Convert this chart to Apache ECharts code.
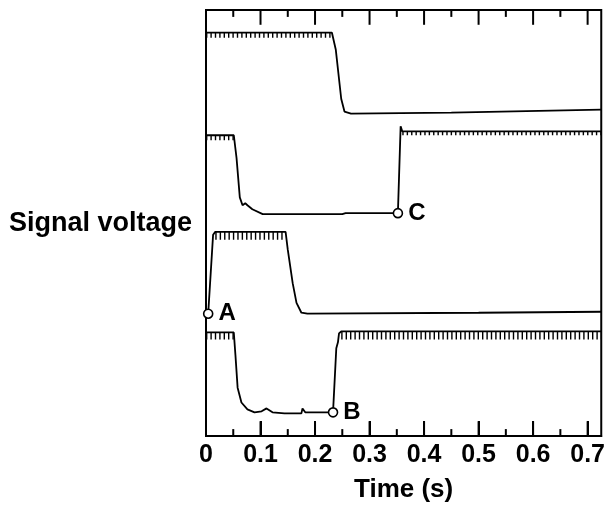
<!DOCTYPE html>
<html><head><meta charset="utf-8">
<script src="https://cdn.jsdelivr.net/npm/echarts@6/dist/echarts.min.js"></script>
<style>html,body{margin:0;padding:0;background:#fff}#c{width:608px;height:508px}</style>
</head><body><div id="c"></div>
<script>
// Time (s) axis
const tMax = 0.725;
const majorStep = 0.1;
const majorTicks = [0.1, 0.2, 0.3, 0.4, 0.5, 0.6, 0.7];
const minorTicks = [0.05, 0.15, 0.25, 0.35, 0.45, 0.55, 0.65];
const yMax = 432;

// Traces: [time (s), signal (arbitrary units, stacked offsets)]
const trace1 = [[0,409],[0.231,409],[0.238,392],[0.248,342],[0.254,329],[0.266,327],[0.45,328],[0.725,331]];
const trace2 = [[0,305],[0.051,305],[0.056,282],[0.062,242],[0.067,234],[0.072,236],[0.076,234],[0.085,230],[0.104,225],[0.25,225],[0.256,226],[0.352,226],[0.357,314],[0.36,309],[0.725,309]];
const trace3 = [[0.004,124],[0.013,204],[0.017,207],[0.146,207],[0.15,189],[0.159,155],[0.166,135],[0.175,125],[0.186,124],[0.5,125],[0.725,126]];
const trace4 = [[0,105],[0.051,105],[0.054,82],[0.058,49],[0.065,34],[0.076,27],[0.089,24],[0.102,25],[0.111,28],[0.122,24],[0.144,23],[0.175,23],[0.177,28],[0.182,24],[0.189,24],[0.233,24],[0.239,89],[0.242,95],[0.244,104],[0.248,106],[0.725,106]];

// Ripple segments on the high levels: [tStart, tEnd, level, ripple amplitude]
const ripples = [
  [0, 0.231, 409, 5],
  [0, 0.051, 305, 5],
  [0.36, 0.725, 309, 4],
  [0.017, 0.146, 207, 8],
  [0, 0.051, 105, 7],
  [0.248, 0.725, 106, 8]
];

// Marked points
const marks = [
  {name: 'A', value: [0.004, 124]},
  {name: 'C', value: [0.352, 226]},
  {name: 'B', value: [0.233, 24]}
];

const FONT = '"Liberation Sans", Arial, Helvetica, sans-serif';
const chart = echarts.init(document.getElementById('c'), null, {renderer: 'canvas'});

const series = [];
[trace1, trace2, trace3, trace4].forEach(t => series.push({
  type: 'line', data: t, symbol: 'none',
  lineStyle: {color: '#000', width: 1.8}, z: 3, animation: false
}));
ripples.forEach(r => series.push({
  type: 'line', data: [[r[0], r[2] - r[3] / 2], [r[1], r[2] - r[3] / 2]], symbol: 'none',
  lineStyle: {color: '#000', width: r[3], type: [1.4, 3.0], cap: 'butt'}, z: 2, animation: false
}));

// Inward tick marks on the bottom and top frame, each a short line through the x/y scales
function addTicks(vals, len) {
  vals.forEach(v => {
    [[[v, 0], [v, len]], [[v, yMax - len], [v, yMax]]].forEach(seg => series.push({
      type: 'line', data: seg, symbol: 'none', showSymbol: false, animation: false, z: 6,
      clip: false, lineStyle: {color: '#000', width: 2, type: 'solid', opacity: 1}
    }));
  });
}
addTicks(majorTicks, 15);
addTicks(minorTicks, 7);

series.push({
  type: 'scatter', data: marks, symbol: 'circle', symbolSize: 9, z: 5,
  itemStyle: {color: '#fff', borderColor: '#000', borderWidth: 1.6, opacity: 1},
  label: {show: true, position: 'right', distance: 5, formatter: p => p.name,
    color: '#000', fontFamily: FONT, fontWeight: 'bold', fontSize: 24},
  animation: false
});

chart.setOption({
  animation: false,
  grid: {left: 206, right: 4, top: 10, bottom: 66, show: true, borderColor: '#000', borderWidth: 2},
  xAxis: {
    type: 'value', min: 0, max: tMax, interval: majorStep,
    axisLine: {show: true, onZero: false, lineStyle: {color: '#000', width: 2}},
    splitLine: {show: false},
    axisTick: {show: true, inside: true, length: 15, lineStyle: {color: '#000', width: 2}},
    axisLabel: {show: true, showMaxLabel: false, color: '#000', fontFamily: FONT, fontWeight: 'bold', fontSize: 25, margin: 7,
      formatter: v => v === 0 ? '0' : (v > 0.71 ? '' : v.toFixed(1))},
    name: 'Time (s)', nameLocation: 'middle', nameGap: 41,
    nameTextStyle: {color: '#000', fontFamily: FONT, fontWeight: 'bold', fontSize: 26}
  },
  yAxis: {type: 'value', min: 0, max: yMax, show: false},
  graphic: [{
    type: 'text', left: 9, top: 210,
    style: {text: 'Signal voltage', fill: '#000', font: 'bold 27px ' + FONT}
  }],
  series: series
});
</script></body></html>
